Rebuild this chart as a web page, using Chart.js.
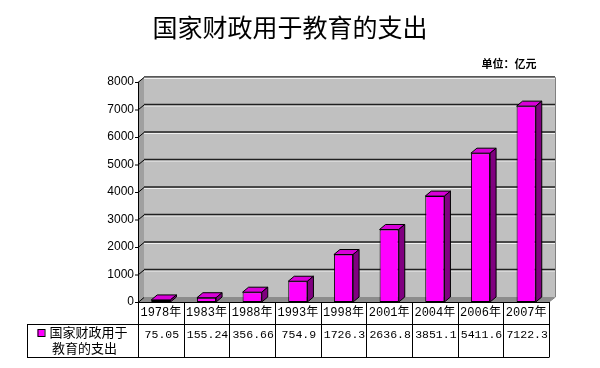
<!DOCTYPE html>
<html>
<head>
<meta charset="utf-8">
<script src="https://cdn.jsdelivr.net/npm/chart.js@4.4.0/dist/chart.umd.min.js"></script>
<style>
  body { margin: 0; background: #fff; }
</style>
</head>
<body>
<canvas id="chart" width="600" height="368"></canvas>
<script>
const years = ['1978年', '1983年', '1988年', '1993年', '1998年', '2001年', '2004年', '2006年', '2007年'];
const spending = [75.05, 155.24, 356.66, 754.9, 1726.3, 2636.8, 3851.1, 5411.6, 7122.3];
const yTicks = [0, 1000, 2000, 3000, 4000, 5000, 6000, 7000, 8000];
const seriesName = ['国家财政用于', '教育的支出'];
const chartTitle = '国家财政用于教育的支出';
const unitText = '单位：亿元';

const DX = 6, DY = -5; // 3d depth
const cjk = '"Noto Sans CJK SC"';

// wall, floor, gridlines behind the bars
const wallPlugin = {
    id: 'wall',
    beforeDraw(chart) {
        const ctx = chart.ctx;
        const a = chart.chartArea;
        const y = chart.scales.y;
        ctx.save();
        // back wall
        ctx.fillStyle = '#c0c0c0';
        ctx.fillRect(a.left + DX, a.top + DY, a.right - a.left, a.bottom - a.top);
        // left side wall
        ctx.fillStyle = '#a0a0a0';
        ctx.beginPath();
        ctx.moveTo(a.left, a.top);
        ctx.lineTo(a.left + DX, a.top + DY);
        ctx.lineTo(a.left + DX, a.bottom + DY);
        ctx.lineTo(a.left, a.bottom);
        ctx.closePath();
        ctx.fill();
        // floor
        ctx.fillStyle = '#8c8c8c';
        ctx.beginPath();
        ctx.moveTo(a.left, a.bottom);
        ctx.lineTo(a.left + DX, a.bottom + DY);
        ctx.lineTo(a.right + DX, a.bottom + DY);
        ctx.lineTo(a.right, a.bottom);
        ctx.closePath();
        ctx.fill();

        // gridlines on the back wall
        yTicks.forEach((v) => {
            const py = y.getPixelForValue(v);
            if (v > 0) {
                ctx.strokeStyle = '#f0f0f0';
                ctx.lineWidth = 1;
                ctx.beginPath();
                ctx.moveTo(a.left + DX, py + DY + 1.5);
                ctx.lineTo(a.right + DX, py + DY + 1.5);
                ctx.stroke();
                ctx.strokeStyle = '#202020';
                ctx.lineWidth = 1.5;
                ctx.beginPath();
                ctx.moveTo(a.left + DX, py + DY);
                ctx.lineTo(a.right + DX, py + DY);
                ctx.stroke();
            }
            // tick and diagonal
            ctx.strokeStyle = '#000';
            ctx.lineWidth = 1;
            ctx.beginPath();
            ctx.moveTo(a.left - 3, py + 0.5);
            ctx.lineTo(a.left, py + 0.5);
            ctx.lineTo(a.left + DX, py + DY + 0.5);
            ctx.stroke();
        });
        // wall edges
        ctx.strokeStyle = '#808080';
        ctx.lineWidth = 1;
        ctx.beginPath();
        ctx.moveTo(a.left + DX, a.top + DY + 0.5);
        ctx.lineTo(a.right + DX + 0.5, a.top + DY + 0.5);
        ctx.lineTo(a.right + DX + 0.5, a.bottom + DY);
        ctx.lineTo(a.right, a.bottom);
        ctx.stroke();
        // front axis line
        ctx.strokeStyle = '#000';
        ctx.beginPath();
        ctx.moveTo(a.left + 0.5, a.top);
        ctx.lineTo(a.left + 0.5, a.bottom);
        ctx.stroke();
        ctx.restore();
    }
};

// top and side faces of the bars
const boxPlugin = {
    id: 'box',
    afterDatasetsDraw(chart) {
        const ctx = chart.ctx;
        const meta = chart.getDatasetMeta(0);
        ctx.save();
        ctx.strokeStyle = '#000';
        ctx.lineWidth = 1;
        meta.data.forEach((bar) => {
            const p = bar.getProps(['x', 'y', 'base', 'width'], true);
            const l = p.x - p.width / 2, r = p.x + p.width / 2;
            ctx.fillStyle = '#d800d8';
            ctx.beginPath();
            ctx.moveTo(l, p.y);
            ctx.lineTo(l + DX, p.y + DY);
            ctx.lineTo(r + DX, p.y + DY);
            ctx.lineTo(r, p.y);
            ctx.closePath();
            ctx.fill();
            ctx.stroke();
            ctx.fillStyle = '#800080';
            ctx.beginPath();
            ctx.moveTo(r, p.y);
            ctx.lineTo(r + DX, p.y + DY);
            ctx.lineTo(r + DX, p.base + DY);
            ctx.lineTo(r, p.base);
            ctx.closePath();
            ctx.fill();
            ctx.stroke();
        });
        ctx.restore();
    }
};

// data table, title, unit
const tablePlugin = {
    id: 'table',
    afterDraw(chart) {
        const ctx = chart.ctx;
        const a = chart.chartArea;
        const x = chart.scales.x;
        const half = (x.getPixelForValue(1) - x.getPixelForValue(0)) / 2;
        const rowMid = 324, tBottom = 357.5, tLeft = 27;
        ctx.save();
        ctx.strokeStyle = '#000';
        ctx.lineWidth = 1;
        ctx.beginPath();
        ctx.moveTo(a.left, a.bottom + 0.5);
        ctx.lineTo(a.right, a.bottom + 0.5);
        ctx.moveTo(tLeft, rowMid + 0.5);
        ctx.lineTo(a.right, rowMid + 0.5);
        ctx.moveTo(tLeft, tBottom);
        ctx.lineTo(a.right, tBottom);
        ctx.moveTo(tLeft + 0.5, rowMid);
        ctx.lineTo(tLeft + 0.5, tBottom);
        ctx.moveTo(a.left + 0.5, a.bottom);
        ctx.lineTo(a.left + 0.5, tBottom);
        years.forEach((yr, i) => {
            const bx = Math.round(x.getPixelForValue(i) + half) + 0.5;
            ctx.moveTo(bx, a.bottom);
            ctx.lineTo(bx, tBottom);
        });
        ctx.stroke();

        // values row
        ctx.fillStyle = '#000';
        ctx.font = '11.5px "Liberation Mono"';
        ctx.textAlign = 'center';
        ctx.textBaseline = 'middle';
        spending.forEach((v, i) => {
            ctx.fillText(String(v), x.getPixelForValue(i) + 1, 335);
        });

        // legend cell
        ctx.font = '13px ' + cjk;
        const w1 = ctx.measureText(seriesName[0]).width;
        const cx = (tLeft + a.left) / 2;
        const sx = cx - (w1 + 12) / 2;
        ctx.fillStyle = '#ff00ff';
        ctx.fillRect(sx, 329.5, 7, 7);
        ctx.strokeRect(sx + 0.5, 329.5, 7, 7);
        ctx.fillStyle = '#000';
        ctx.textAlign = 'left';
        ctx.fillText(seriesName[0], sx + 12, 332);
        ctx.textAlign = 'center';
        ctx.fillText(seriesName[1], cx + 2, 348);

        // title and unit
        ctx.font = '25px ' + cjk;
        ctx.fillText(chartTitle, 290, 27);
        ctx.font = 'bold 11px ' + cjk;
        ctx.fillText(unitText, 509, 64);
        ctx.restore();
    }
};

new Chart(document.getElementById('chart'), {
    type: 'bar',
    data: {
        labels: years,
        datasets: [{
            label: seriesName.join(''),
            data: spending,
            backgroundColor: '#ff00ff',
            borderColor: '#000',
            borderWidth: 1,
            borderSkipped: false,
            barPercentage: 0.42,
            categoryPercentage: 1.0,
        }]
    },
    options: {
        responsive: false,
        devicePixelRatio: 1,
        animation: false,
        layout: { padding: { top: 82, right: 51, left: 0, bottom: 0 } },
        plugins: {
            legend: { display: false },
            tooltip: { enabled: false },
        },
        scales: {
            x: {
                grid: { display: false, drawTicks: false },
                border: { display: false },
                ticks: {
                    color: '#000',
                    padding: 4,
                    maxRotation: 0,
                    autoSkip: false,
                    font: { family: '"Liberation Mono", "Noto Sans CJK SC"', size: 12 },
                },
                afterFit: (s) => { s.height = 66; },
            },
            y: {
                min: 0,
                max: 8000,
                grid: { display: false, drawTicks: false },
                border: { display: false },
                ticks: {
                    stepSize: 1000,
                    color: '#000',
                    padding: 4,
                    font: { family: '"Liberation Sans"', size: 12 },
                    callback: (v) => String(v),
                },
                afterFit: (s) => { s.width = 138; },
            }
        }
    },
    plugins: [wallPlugin, boxPlugin, tablePlugin]
});
</script>
</body>
</html>
